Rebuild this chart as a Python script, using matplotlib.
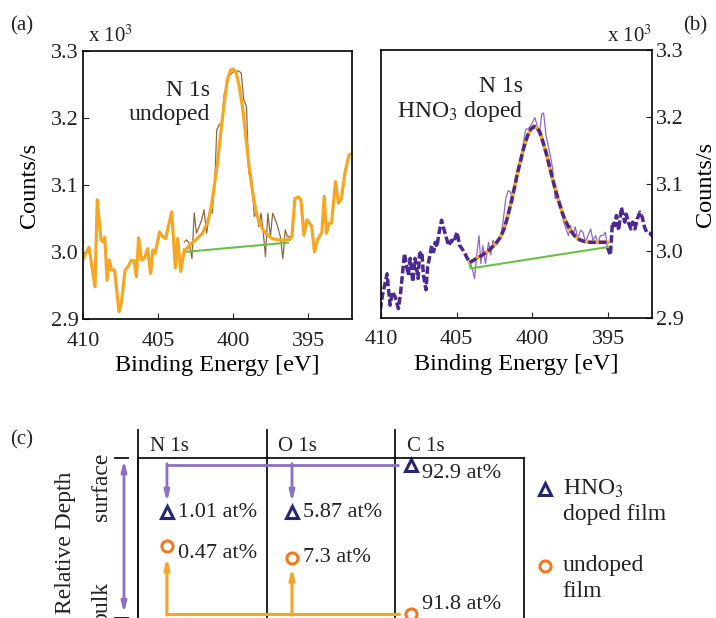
import numpy as np
import matplotlib
matplotlib.use("Agg")
import matplotlib.pyplot as plt

plt.rcParams["font.family"] = ["Liberation Serif", "DejaVu Serif"]
plt.rcParams["mathtext.fontset"] = "stix"
plt.rcParams["text.color"] = "#222222"

# ---- panel (a): N 1s undoped (counts/s in units of 1e3) ----
a_raw_left_x = [410.0, 409.6, 409.2, 409.05, 408.8, 408.65, 408.55, 408.4, 408.25, 408.1,
                407.9, 407.6, 407.45, 407.2, 407.0, 406.8, 406.6, 406.45, 406.3, 406.1,
                405.9, 405.7, 405.5, 405.35, 405.2, 404.9, 404.7, 404.5, 404.1, 403.85,
                403.7, 403.5, 403.26]
a_raw_left_y = [2.990, 3.007, 2.948, 3.078, 3.018, 3.015, 3.022, 2.958, 2.988, 2.973,
                2.973, 2.911, 2.923, 2.973, 2.978, 2.987, 2.987, 2.963, 3.021, 2.988,
                2.991, 3.005, 2.968, 3.003, 2.998, 3.030, 3.023, 3.020, 3.060, 2.976,
                3.020, 2.971, 3.003]
a_raw_right_x = [396.28, 396.1, 395.9, 395.66, 395.5, 395.3, 395.1, 394.93, 394.78, 394.6,
                 394.4, 394.1, 393.95, 393.8, 393.63, 393.46, 393.2, 393.0, 392.8, 392.58,
                 392.3, 392.14]
a_raw_right_y = [3.019, 3.023, 3.080, 3.082, 3.078, 3.025, 3.048, 3.043, 3.038, 3.000,
                 3.018, 3.030, 3.083, 3.028, 3.043, 3.043, 3.105, 3.073, 3.080, 3.117,
                 3.145, 3.146]
a_peak_x = [403.26, 403.1, 402.93, 402.75, 402.6, 402.45, 402.27, 402.1, 401.95, 401.77,
            401.57, 401.4, 401.23, 401.1, 400.95, 400.77, 400.6, 400.46, 400.3, 400.1,
            399.95, 399.8, 399.63, 399.47, 399.3, 399.12, 398.97, 398.8, 398.6, 398.45,
            398.3, 398.15, 398.0, 397.86, 397.7, 397.53, 397.38, 397.2, 397.05, 396.87,
            396.7, 396.54, 396.4, 396.28]
a_peak_y = [3.015, 3.018, 3.013, 2.990, 3.058, 3.028, 3.038, 3.048, 3.063, 3.028,
            3.063, 3.058, 3.107, 3.182, 3.190, 3.192, 3.237, 3.242, 3.262, 3.267,
            3.270, 3.270, 3.270, 3.267, 3.227, 3.217, 3.117, 3.117, 3.053, 3.058,
            3.038, 3.058, 3.028, 2.993, 3.058, 3.023, 3.058, 3.048, 3.038, 3.023,
            2.990, 3.033, 3.023, 3.023]
a_fit_x = [403.26, 402.93, 402.5, 402.05, 401.7, 401.5, 401.3, 401.05, 400.84, 400.6,
           400.4, 400.17, 400.0, 399.8, 399.6, 399.36, 399.14, 398.92, 398.7, 398.48,
           398.2, 397.86, 397.4, 396.98, 396.5, 396.28]
a_fit_y = [3.000, 3.010, 3.018, 3.028, 3.045, 3.063, 3.093, 3.132, 3.177, 3.222,
           3.257, 3.272, 3.273, 3.267, 3.247, 3.212, 3.167, 3.122, 3.087, 3.060,
           3.040, 3.028, 3.020, 3.018, 3.018, 3.019]
a_bg_x = [403.26, 396.37]
a_bg_y = [3.000, 3.014]

# ---- panel (b): N 1s HNO3 doped ----
b_raw_left_x = [410.05, 409.9, 409.6, 409.4, 409.25, 409.07, 408.85, 408.7, 408.45, 408.2,
                408.07, 407.9, 407.75, 407.55, 407.45, 407.3, 407.2, 407.03, 406.92, 406.75,
                406.65, 406.52, 406.42, 406.3, 406.2, 406.0, 405.85, 405.7, 405.53, 405.35,
                405.2, 404.98, 404.8, 404.63, 404.46, 404.3, 404.13]
b_raw_left_y = [2.912, 2.934, 2.966, 2.919, 2.939, 2.932, 2.914, 2.939, 2.996, 2.964,
                2.989, 2.954, 2.989, 2.959, 2.996, 2.999, 2.964, 2.942, 2.976, 2.996,
                3.008, 2.999, 3.013, 3.006, 3.023, 3.046, 3.033, 3.021, 3.008, 3.016,
                3.013, 3.028, 3.008, 3.003, 2.996, 2.989, 2.984]
b_raw_right_x = [395.05, 394.85, 394.71, 394.56, 394.45, 394.3, 394.12, 394.0, 393.9, 393.8,
                 393.63, 393.5, 393.38, 393.23, 393.07, 392.9, 392.74, 392.6, 392.45, 392.28,
                 392.1, 391.97]
b_raw_right_y = [3.006, 2.994, 3.043, 3.038, 3.053, 3.031, 3.065, 3.053, 3.043, 3.055,
                 3.041, 3.033, 3.043, 3.033, 3.048, 3.058, 3.050, 3.036, 3.028, 3.027,
                 3.023, 3.023]
b_peak_x = [404.13, 403.97, 403.82, 403.7, 403.53, 403.4, 403.27, 403.1, 402.9, 402.75,
            402.6, 402.42, 402.27, 402.1, 401.94, 401.76, 401.6, 401.45, 401.3, 401.16,
            401.0, 400.87, 400.72, 400.56, 400.43, 400.27, 400.12, 399.99, 399.83, 399.68,
            399.54, 399.39, 399.26, 399.1, 398.95, 398.81, 398.66, 398.5, 398.37, 398.21,
            398.06, 397.93, 397.77, 397.62, 397.48, 397.33, 397.17, 397.0, 396.82, 396.66,
            396.49, 396.33, 396.15, 396.0, 395.82, 395.67, 395.51, 395.33, 395.18, 395.05]
b_peak_y = [2.984, 2.974, 2.959, 2.989, 3.023, 2.981, 3.008, 2.981, 3.013, 2.994,
            3.016, 3.008, 3.013, 3.023, 3.043, 3.078, 3.090, 3.088, 3.073, 3.100,
            3.117, 3.127, 3.135, 3.167, 3.182, 3.182, 3.187, 3.192, 3.199, 3.187,
            3.172, 3.204, 3.206, 3.172, 3.157, 3.142, 3.122, 3.078, 3.080, 3.073,
            3.058, 3.043, 3.033, 3.023, 3.038, 3.023, 3.036, 3.018, 3.031, 3.028,
            3.013, 3.023, 3.033, 3.016, 3.023, 3.011, 3.023, 3.023, 3.028, 3.006]
b_fit_x = [404.13, 403.75, 403.3, 402.87, 402.42, 402.1, 401.87, 401.65, 401.43, 401.2,
           401.0, 400.76, 400.54, 400.32, 400.1, 399.88, 399.7, 399.5, 399.32, 399.1,
           398.88, 398.66, 398.44, 398.2, 398.0, 397.77, 397.55, 397.22, 396.9, 396.55,
           396.22, 395.78, 395.33, 395.0]
b_fit_y = [2.983, 2.988, 2.994, 3.001, 3.011, 3.021, 3.033, 3.050, 3.070, 3.093,
           3.115, 3.137, 3.157, 3.172, 3.182, 3.186, 3.184, 3.177, 3.164, 3.147,
           3.127, 3.107, 3.088, 3.070, 3.055, 3.043, 3.033, 3.023, 3.017, 3.014,
           3.013, 3.013, 3.013, 3.013]
b_bg_x = [404.2, 404.08, 395.0]
b_bg_y = [2.985, 2.974, 3.006]

# ---- panel (c): atomic concentrations ----
elements = ["N 1s", "O 1s", "C 1s"]
doped_at = [1.01, 5.87, 92.9]
undoped_at = [0.47, 7.3, 91.8]

ORANGE = "#f5a623"
BROWN = "#8a6a3c"
GREEN = "#6cc04a"
PURPLE = "#4a2a90"
LPURPLE = "#9067c6"
NAVY = "#272770"
CORANGE = "#ef7a1f"
ARROW_P = "#8c70c4"

fig = plt.figure(figsize=(7.16, 6.18), dpi=100)
W, H = 716, 618


def px_axes(l, r, t, b):
    return fig.add_axes([l / W, 1 - b / H, (r - l) / W, (b - t) / H])


def style_spec(ax, right=False):
    ax.set_xlim(410, 392.1)
    ax.set_ylim(2.9, 3.3)
    ax.set_xticks([410, 405, 400, 395])
    ax.set_yticks([2.9, 3.0, 3.1, 3.2, 3.3])
    ax.set_yticklabels(["2.9", "3.0", "3.1", "3.2", "3.3"])
    ax.tick_params(direction="in", length=4, labelsize=16, colors="#222222")
    ax.tick_params(axis="x", pad=9)
    ax.tick_params(axis="y", pad=3)
    if right:
        ax.yaxis.tick_right()
        ax.yaxis.set_label_position("right")
    for s in ax.spines.values():
        s.set_linewidth(1.2)
    ax.set_xlabel("Binding Energy [eV]", fontsize=17.5, labelpad=3)
    ax.set_ylabel("Counts/s", fontsize=17.5, labelpad=8)


# (a)
ax = px_axes(83, 352, 51, 319)
ax.plot(a_raw_left_x, a_raw_left_y, color=ORANGE, lw=2.3)
ax.plot(a_raw_right_x, a_raw_right_y, color=ORANGE, lw=2.3)
ax.plot(a_peak_x, a_peak_y, color=BROWN, lw=0.9)
ax.plot(a_bg_x, a_bg_y, color=GREEN, lw=1.5)
ax.plot(a_fit_x, a_fit_y, color=ORANGE, lw=2.3)
style_spec(ax)
ax.text(0.472, 0.852, "N 1s", transform=ax.transAxes, ha="right", va="center", fontsize=17)
ax.text(0.472, 0.762, "undoped", transform=ax.transAxes, ha="right", va="center", fontsize=17)
fig.text(88 / W, 1 - 36 / H, r"x 10$^3$", fontsize=15, va="center", ha="left")
fig.text(10 / W, 1 - 26 / H, "(a)", fontsize=15, va="center", ha="left")

# (b)
ax = px_axes(381, 652, 50, 318)
ax.plot(b_raw_left_x, b_raw_left_y, color=PURPLE, lw=2.5, ls=(0, (2.2, 0.8)))
ax.plot(b_raw_right_x, b_raw_right_y, color=PURPLE, lw=2.5, ls=(0, (2.2, 0.8)))
ax.plot(b_peak_x, b_peak_y, color=LPURPLE, lw=0.9)
ax.plot(b_bg_x, b_bg_y, color=GREEN, lw=1.5)
ax.plot(b_fit_x, b_fit_y, color=ORANGE, lw=2.5)
ax.plot(b_fit_x, b_fit_y, color=PURPLE, lw=2.5, ls=(0, (2.2, 0.9)))
style_spec(ax, right=True)
ax.text(0.524, 0.864, "N 1s", transform=ax.transAxes, ha="right", va="center", fontsize=17)
ax.text(0.524, 0.772, r"HNO$_3$ doped", transform=ax.transAxes, ha="right", va="center", fontsize=17)
fig.text(652 / W, 1 - 36 / H, r"x 10$^3$", fontsize=15, va="center", ha="right")
fig.text(683 / W, 1 - 26 / H, "(b)", fontsize=15, va="center", ha="left")

# (c)
ax = px_axes(138, 524, 458, 618)
ax.set_xlim(0, 3)
ax.set_ylim(0, 1)
ax.set_xticks([])
ax.set_yticks([])
ax.spines["bottom"].set_visible(False)
for s in ["left", "top", "right"]:
    ax.spines[s].set_linewidth(1.3)
    ax.spines[s].set_color("#111111")

col = np.arange(len(elements))
# layout positions (schematic)
mk_dx = [0.225, 0.197, 0.12]
doped_y = [0.66, 0.66, 0.956]
undoped_y = [0.453, 0.377, 0.025]
mx = col + np.array(mk_dx)

for c in [0, 1, 2]:
    ax.plot([c, c], [0, 1.176], color="#111111", lw=1.3, clip_on=False)
for c, name in zip(col, elements):
    ax.text(c + 0.09, 1.07, name, fontsize=15, ha="left", va="center")

# purple (doped) leader lines
ax.plot([mx[0], mx[2] - 0.09], [doped_y[2], doped_y[2]], color=ARROW_P, lw=2, solid_capstyle="butt")
for i in [0, 1]:
    ax.annotate("", xy=(mx[i], 0.725), xytext=(mx[i], doped_y[2] + 0.008),
                arrowprops=dict(arrowstyle="-|>,head_length=0.6,head_width=0.15",
                                color=ARROW_P, lw=2, shrinkA=0, shrinkB=0))
# orange (undoped) leader lines
ax.plot([mx[0], mx[2] - 0.08], [undoped_y[2], undoped_y[2]], color=ORANGE, lw=2.2, solid_capstyle="butt")
ax.annotate("", xy=(mx[0], undoped_y[0] - 0.075), xytext=(mx[0], undoped_y[2] - 0.007),
            arrowprops=dict(arrowstyle="-|>,head_length=0.6,head_width=0.15",
                            color=ORANGE, lw=2.2, shrinkA=0, shrinkB=0))
ax.annotate("", xy=(mx[1], undoped_y[1] - 0.063), xytext=(mx[1], undoped_y[2] - 0.007),
            arrowprops=dict(arrowstyle="-|>,head_length=0.6,head_width=0.15",
                            color=ORANGE, lw=2.2, shrinkA=0, shrinkB=0))

ax.plot(mx, doped_y, ls="none", marker="^", ms=9, mfc="white", mec=NAVY, mew=2.2, clip_on=False)
ax.plot(mx, undoped_y, ls="none", marker="o", ms=8, mfc="white", mec=CORANGE, mew=2.2, clip_on=False)

d_text_y = [0.66, 0.66, 0.905]
u_text_y = [0.40, 0.377, 0.085]
for i in range(3):
    ax.text(mx[i] + 0.085, d_text_y[i], f"{doped_at[i]} at%", fontsize=16, ha="left", va="center")
    ax.text(mx[i] + 0.085, u_text_y[i], f"{undoped_at[i]} at%", fontsize=16, ha="left", va="center")

# depth axis
ax.annotate("", xy=(-0.109, 0.987), xytext=(-0.109, 0.03),
            arrowprops=dict(arrowstyle="<|-|>,head_length=0.6,head_width=0.15",
                            color=ARROW_P, lw=2, shrinkA=0, shrinkB=0), annotation_clip=False)
ax.plot([-0.179, -0.078], [1, 1], color="#111111", lw=1.3, clip_on=False)
ax.plot([-0.179, -0.078], [0.0, 0.0], color="#111111", lw=1.3, clip_on=False)
ax.text(-0.28, 0.82, "surface", rotation=90, fontsize=17, ha="center", va="center")
ax.text(-0.28, 0.095, "bulk", rotation=90, fontsize=17, ha="center", va="center", clip_on=False)
ax.text(-0.567, 0.47, "Relative Depth", rotation=90, fontsize=17, ha="center", va="center")

# legend
ax.plot([3.162], [0.805], ls="none", marker="^", ms=9, mfc="white", mec=NAVY, mew=2.2, clip_on=False)
ax.plot([3.162], [0.327], ls="none", marker="o", ms=8, mfc="white", mec=CORANGE, mew=2.2, clip_on=False)
ax.text(3.30, 0.805, r"HNO$_3$", fontsize=17, ha="left", va="center")
ax.text(3.30, 0.645, "doped film", fontsize=17, ha="left", va="center")
ax.text(3.30, 0.327, "undoped", fontsize=17, ha="left", va="center")
ax.text(3.30, 0.164, "film", fontsize=17, ha="left", va="center")

fig.text(10 / W, 1 - 440 / H, "(c)", fontsize=15, va="center", ha="left")

fig.savefig("out.png", dpi=100)
